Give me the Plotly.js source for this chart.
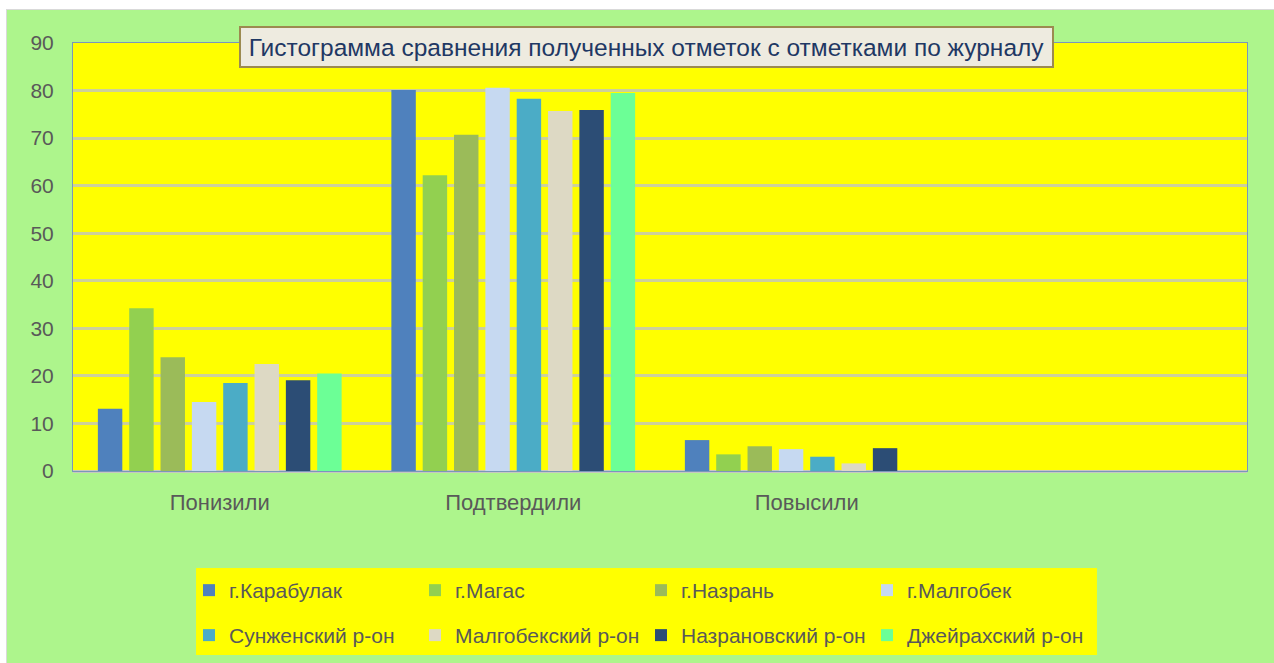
<!DOCTYPE html>
<html>
<head>
<meta charset="utf-8">
<script src="https://cdn.plot.ly/plotly-3.0.1.min.js"></script>
<style>
  html, body { margin: 0; padding: 0; background: #ffffff; }
  #frame { position: absolute; left: 6px; top: 9px; width: 1268px; height: 654px; background: #d9d9d9; }
  #chart { position: absolute; left: 7px; top: 10px; width: 1267px; height: 653px; }
</style>
</head>
<body>
<div id="frame"></div>
<div id="chart"></div>
<script>
const categories = ["Понизили", "Подтвердили", "Повысили"];
const seriesNames = ["г.Карабулак", "г.Магас", "г.Назрань", "г.Малгобек",
                     "Сунженский р-он", "Малгобекский р-он", "Назрановский р-он", "Джейрахский р-он"];
const karabulak   = [13.1, 80.1, 6.5];
const magas       = [34.2, 62.2, 3.5];
const nazran      = [23.9, 70.7, 5.2];
const malgobek    = [14.5, 80.6, 4.6];
const sunzha      = [18.5, 78.3, 3.0];
const malgobekRn  = [22.5, 75.7, 1.6];
const nazranRn    = [19.1, 75.9, 4.8];
const dzheirakh   = [20.5, 79.5, 0];
const seriesValues = [karabulak, magas, nazran, malgobek, sunzha, malgobekRn, nazranRn, dzheirakh];
const colors = ["#4f81bd", "#92d050", "#9bbb59", "#c6d9f1", "#4bacc6", "#ddd9c4", "#2c4d75", "#6cff96"];
const titleText = "Гистограмма сравнения полученных отметок с отметками по журналу";

const FONT = "Liberation Sans, Arial, sans-serif";

const traces = seriesNames.map((name, i) => ({
  type: "bar",
  name: name,
  x: categories,
  y: seriesValues[i],
  marker: { color: colors[i], line: { width: 0 } },
  legend: i < 4 ? "legend" : "legend2",
  hoverinfo: "x+y+name"
}));

const legendCommon = {
  orientation: "h",
  xanchor: "left",
  yanchor: "top",
  bgcolor: "rgba(0,0,0,0)",
  borderwidth: 0,
  font: { family: FONT, size: 21, color: "#595959" },
  entrywidth: 181,
  entrywidthmode: "pixels",
  itemclick: false,
  itemdoubleclick: false
};

const layout = {
  width: 1267,
  height: 653,
  paper_bgcolor: "#adf58c",
  plot_bgcolor: "#ffff00",
  margin: { l: 66, r: 27, t: 33, b: 192, autoexpand: false },
  barmode: "group",
  bargap: 0.146,
  bargroupgap: 0.22,
  showlegend: true,
  xaxis: {
    type: "category",
    range: [-0.5, 3.5],
    showgrid: false,
    ticks: "",
    ticklabelstandoff: 12,
    tickfont: { family: FONT, size: 22, color: "#595959" },
    showline: true,
    linecolor: "#7a96bb",
    linewidth: 1,
    mirror: true,
    fixedrange: true
  },
  yaxis: {
    range: [0, 90],
    dtick: 10,
    showgrid: true,
    gridcolor: "#cdd09a",
    gridwidth: 3,
    zeroline: true,
    zerolinecolor: "#c8c8c0",
    zerolinewidth: 3,
    ticks: "",
    ticklabelstandoff: 14,
    tickfont: { family: FONT, size: 21, color: "#595959" },
    showline: true,
    linecolor: "#7a96bb",
    linewidth: 1,
    mirror: true,
    fixedrange: true
  },
  legend: Object.assign({}, legendCommon, { x: 0.0988, y: -0.2313 }),
  legend2: Object.assign({}, legendCommon, { x: 0.0988, y: -0.3364 }),
  shapes: [{
    type: "rect", xref: "paper", yref: "paper",
    x0: 0.1048, x1: 0.8722, y0: -0.2266, y1: -0.4299,
    fillcolor: "#ffff00", line: { width: 0 }, layer: "below"
  }],
  annotations: [{
    xref: "paper", yref: "paper",
    x: 0.4885, y: 0.9895,
    xanchor: "center", yanchor: "middle",
    text: titleText,
    showarrow: false,
    font: { family: FONT, size: 24.5, color: "#1f3864" },
    bgcolor: "#eeebe0",
    bordercolor: "#9c8a50",
    borderwidth: 2,
    borderpad: 0,
    width: 811,
    height: 38
  }]
};

Plotly.newPlot("chart", traces, layout, { displayModeBar: false, staticPlot: true });
</script>
</body>
</html>
